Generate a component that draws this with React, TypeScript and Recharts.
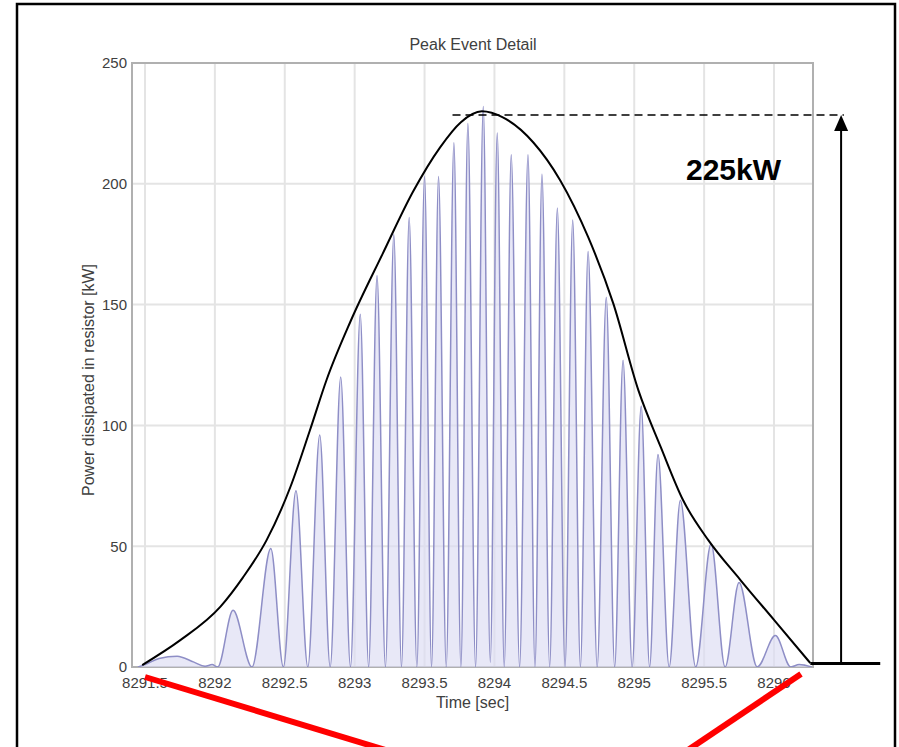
import React from "react";
import {
  ComposedChart,
  Line,
  Area,
  XAxis,
  YAxis,
  CartesianGrid,
  ReferenceLine,
  ReferenceArea,
} from "recharts";

// ---- data ----
const waveTime = [
  8291.45, 8291.5, 8291.6, 8291.73, 8291.85, 8291.93, 8291.98, 8292.02,
  8292.13, 8292.265, 8292.4, 8292.49, 8292.58, 8292.665, 8292.75, 8292.825,
  8292.9, 8292.97, 8293.04, 8293.1, 8293.16, 8293.22, 8293.28, 8293.335,
  8293.39, 8293.445, 8293.5, 8293.55, 8293.6, 8293.655, 8293.71, 8293.76,
  8293.81, 8293.865, 8293.92, 8293.97, 8294.02, 8294.07, 8294.12, 8294.18,
  8294.24, 8294.29, 8294.34, 8294.395, 8294.45, 8294.505, 8294.56, 8294.615,
  8294.67, 8294.735, 8294.8, 8294.86, 8294.92, 8294.985, 8295.05, 8295.11,
  8295.17, 8295.25, 8295.33, 8295.44, 8295.55, 8295.65, 8295.75, 8295.88,
  8296.01, 8296.12, 8296.18, 8296.27,
];
const wavePower = [
  0, 1, 3.5, 4.5, 2, 0.3, 1, 0,
  23.5, 0, 49, 0, 73, 0, 96, 0,
  120, 0, 146, 0, 162, 0, 179, 0,
  186, 0, 203, 0, 203, 0, 217, 0,
  225, 0, 232, 2, 221, 0, 212, 0,
  212, 0, 204, 0, 190, 0, 185, 0,
  172, 0, 153, 0, 127, 0, 108, 0,
  88, 0, 69, 0, 51, 0, 35, 0,
  13, 0, 1, 0,
];

const envTime = [
  8291.48, 8291.75, 8292.04, 8292.2, 8292.37, 8292.54, 8292.68, 8292.8,
  8292.97, 8293.2, 8293.42, 8293.61, 8293.76, 8293.91, 8294.06, 8294.28,
  8294.47, 8294.67, 8294.85, 8295.03, 8295.19, 8295.35, 8295.53, 8295.76,
  8296.0, 8296.26,
];
const envPower = [
  0.8, 11, 25, 37, 52.5, 74.5, 98, 119,
  143, 171, 197, 215, 225.5, 230, 227.5, 217,
  201.5, 178, 150.5, 114.5, 91, 69, 52.5, 36,
  19.5, 1.6,
];

const xTicks = [8291.5, 8292, 8292.5, 8293, 8293.5, 8294, 8294.5, 8295, 8295.5, 8296];
const yTicks = [0, 50, 100, 150, 200, 250];
const xDomain = [8291.407, 8296.279];
const yDomain = [0, 250];

const peakLevel = 228.5;
const peakLabel = "225kW";
const dashStart = 8293.7;
const dashEnd = 8296.5;
const arrowTime = 8296.48;
const baseLevel = 1.5;
const baseStart = 8296.26;
const baseEnd = 8296.76;

const titleText = "Peak Event Detail";
const xLabel = "Time [sec]";
const yLabel = "Power dissipated in resistor [kW]";

const waveData = waveTime.map((t, i) => ({ t, p: wavePower[i] }));
const envData = envTime.map((t, i) => ({ t, e: envPower[i] }));

const FONT = "'Liberation Sans', Arial, Helvetica, sans-serif";
const TEXT = "#404040";

const ArrowShape = (props: any) => {
  const x = props.x1;
  const top = Math.min(props.y1, props.y2);
  const bottom = Math.max(props.y1, props.y2);
  return (
    <g>
      <line x1={x} y1={bottom} x2={x} y2={top + 12} stroke="#000" strokeWidth={2} />
      <polygon points={`${x},${top} ${x - 7},${top + 16} ${x + 7},${top + 16}`} fill="#000" />
    </g>
  );
};

const YLabel = (props: any) => {
  const vb = props.viewBox || { x: 0, y: 0, width: 0, height: 0 };
  const cx = vb.x + 88;
  const cy = vb.y + vb.height / 2 + 15;
  return (
    <text
      x={cx}
      y={cy}
      transform={`rotate(-90, ${cx}, ${cy})`}
      textAnchor="middle"
      dominantBaseline="central"
      fontFamily={FONT}
      fontSize={16}
      fill={TEXT}
    >
      {yLabel}
    </text>
  );
};

export default function App() {
  return (
    <div style={{ position: "absolute", left: 0, top: 0, width: 899, height: 747, background: "#fff" }}>
      <ComposedChart
        width={899}
        height={747}
        margin={{ top: 63, right: 86, bottom: 0, left: 0 }}
        style={{ fontFamily: FONT }}
      >
        <CartesianGrid stroke="#e4e4e4" strokeWidth={2} />
        <XAxis
          type="number"
          dataKey="t"
          domain={xDomain}
          ticks={xTicks}
          allowDataOverflow
          height={80}
          axisLine={false}
          tickLine={false}
          tickSize={3}
          tickMargin={7}
          tick={{ fill: TEXT, fontSize: 15, fontFamily: FONT }}
          tickFormatter={(v: number) => String(v)}
          label={{
            value: xLabel,
            position: "insideTop",
            offset: 30,
            fill: TEXT,
            fontSize: 16,
            fontFamily: FONT,
          }}
        />
        <YAxis
          type="number"
          domain={yDomain}
          ticks={yTicks}
          allowDataOverflow
          width={132}
          axisLine={false}
          tickLine={false}
          tickSize={2}
          tickMargin={3}
          tick={{ fill: TEXT, fontSize: 15, fontFamily: FONT }}
          label={{ content: <YLabel /> }}
        />
        <ReferenceArea
          x1={xDomain[0]}
          x2={xDomain[1]}
          y1={yDomain[0]}
          y2={yDomain[1]}
          fill="none"
          stroke="#b0b0b0"
          strokeWidth={2}
          ifOverflow="visible"
        />
        <Area
          data={waveData}
          dataKey="p"
          type="monotone"
          stroke="#8e8ec6"
          strokeWidth={1.5}
          fill="#dcdcf2"
          fillOpacity={0.65}
          isAnimationActive={false}
          dot={false}
          activeDot={false}
        />
        <Line
          data={envData}
          dataKey="e"
          type="monotone"
          stroke="#000"
          strokeWidth={2}
          dot={false}
          activeDot={false}
          isAnimationActive={false}
        />
        <ReferenceLine
          segment={[
            { x: dashStart, y: peakLevel },
            { x: dashEnd, y: peakLevel },
          ]}
          stroke="#000"
          strokeWidth={1.5}
          strokeDasharray="8 5"
          ifOverflow="visible"
        />
        <ReferenceLine
          segment={[
            { x: arrowTime, y: baseLevel },
            { x: arrowTime, y: peakLevel },
          ]}
          ifOverflow="visible"
          shape={ArrowShape}
        />
        <ReferenceLine
          segment={[
            { x: baseStart, y: baseLevel },
            { x: baseEnd, y: baseLevel },
          ]}
          stroke="#000"
          strokeWidth={3}
          ifOverflow="visible"
        />
      </ComposedChart>
      <svg
        width={899}
        height={747}
        style={{ position: "absolute", left: 0, top: 0, pointerEvents: "none" }}
      >
        <rect x={17} y={4} width={878} height={770} fill="none" stroke="#000" strokeWidth={2.5} />
        <text x={473} y={44} textAnchor="middle" dominantBaseline="central" fontFamily={FONT} fontSize={16} fill={TEXT}>
          {titleText}
        </text>
        <text x={686} y={180} fontFamily={FONT} fontWeight="bold" fontSize={30} fill="#000">
          {peakLabel}
        </text>
        <line x1={145} y1={677} x2={392} y2={752} stroke="#ff0000" strokeWidth={6} />
        <line x1={801} y1={674} x2={685} y2={752} stroke="#ff0000" strokeWidth={6} />
      </svg>
    </div>
  );
}
